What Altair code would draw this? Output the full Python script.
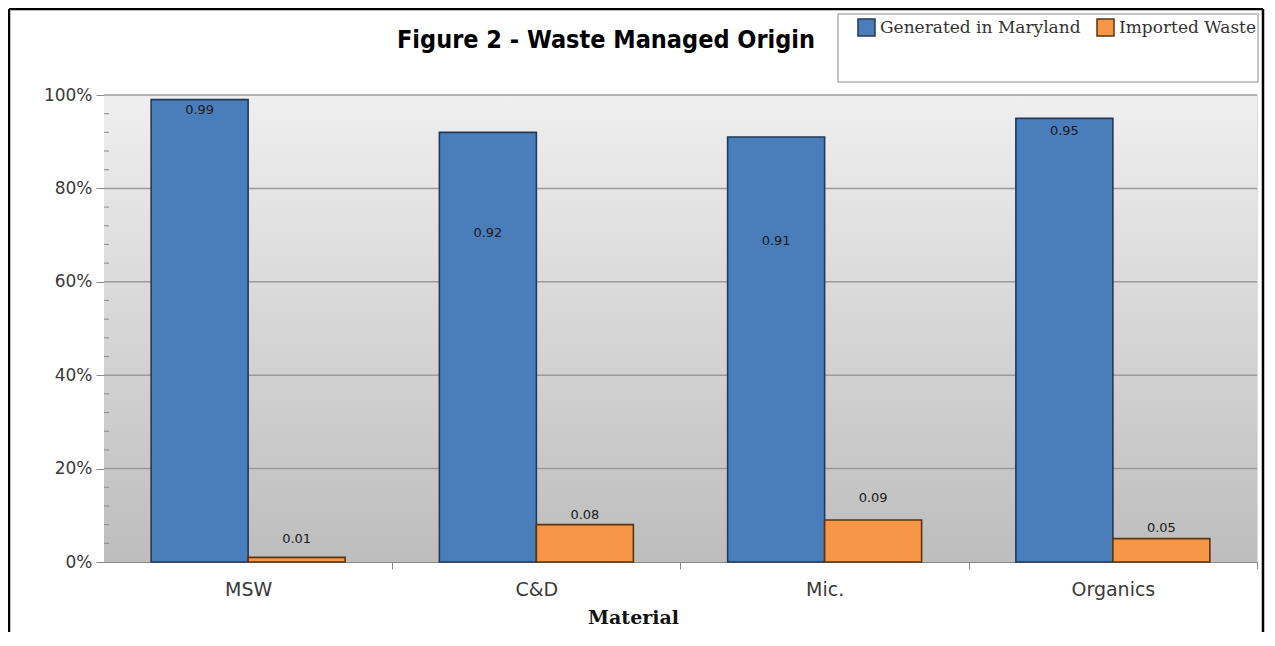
import altair as alt
import pandas as pd

# ---------------- data ----------------
materials = ["MSW", "C&D", "Mic.", "Organics"]
series = ["Generated in Maryland", "Imported Waste"]
generated = [0.99, 0.92, 0.91, 0.95]
imported = [0.01, 0.08, 0.09, 0.05]
generated_text = ["0.99", "0.92", "0.91", "0.95"]
imported_text = ["0.01", "0.08", "0.09", "0.05"]
# where the data labels sit (in axis units)
generated_label_at = [0.968, 0.704, 0.687, 0.923]
imported_label_at = [0.049, 0.100, 0.137, 0.073]
y_ticks = [0, 0.2, 0.4, 0.6, 0.8, 1.0]
grid_values = [0.2, 0.4, 0.6, 0.8, 1.0]
minor_ticks = [i / 25 for i in range(1, 25) if i % 5 != 0]

rows = []
for i, m in enumerate(materials):
    rows.append(dict(material=m, series=series[0], value=generated[i],
                     label=generated_text[i], label_at=generated_label_at[i]))
    rows.append(dict(material=m, series=series[1], value=imported[i],
                     label=imported_text[i], label_at=imported_label_at[i]))
df = pd.DataFrame(rows)

W, H = 1153, 467
one = pd.DataFrame({"k": [0]})

yscale = alt.Scale(domain=[0, 1], nice=False, zero=True)
xscale = alt.Scale(domain=materials, paddingInner=0.327, paddingOuter=0.1635)

y_axis = alt.Axis(title=None, values=y_ticks, format="%", grid=False,
                  tickSize=8, tickColor="#8a8a8a", domainColor="#8a8a8a",
                  labelFont="DejaVu Sans", labelFontSize=17, labelColor="#3a3a3a",
                  labelPadding=4)

background = alt.Chart(one).mark_rect(
    fill=alt.Gradient(
        gradient="linear", x1=0, y1=0, x2=0, y2=1,
        stops=[alt.GradientStop(offset=0, color="#efefef"),
               alt.GradientStop(offset=1, color="#bdbdbd")],
    )
).encode(x=alt.value(0), x2=alt.value(W), y=alt.value(0), y2=alt.value(H))

grid = alt.Chart(pd.DataFrame({"g": grid_values})).mark_rule(
    color="#9a9a9a", strokeWidth=1.5
).encode(
    y=alt.Y("g:Q", scale=yscale, axis=y_axis),
    x=alt.value(0), x2=alt.value(W),
)

minor = alt.Chart(pd.DataFrame({"m": minor_ticks})).mark_rule(
    color="#8a8a8a", strokeWidth=1
).encode(
    y=alt.Y("m:Q", scale=yscale, axis=y_axis),
    x=alt.value(0), x2=alt.value(5),
)

bars = alt.Chart(df).mark_bar(strokeWidth=1.6).encode(
    x=alt.X("material:N", sort=materials, scale=xscale,
            axis=alt.Axis(title="Material", labelAngle=0, tickOffset=144, labelOffset=-144,
                          tickSize=7, tickColor="#8a8a8a", domainColor="#8a8a8a",
                          labelFont="DejaVu Sans", labelFontSize=19, labelColor="#3a3a3a",
                          labelPadding=11, titleFont="DejaVu Serif", titleFontSize=19,
                          titleFontWeight="bold", titleColor="#111111",
                          titleX=529, titleY=46, titleBaseline="top")),
    xOffset=alt.XOffset("series:N", sort=series, scale=alt.Scale(domain=series, paddingInner=0, paddingOuter=0)),
    y=alt.Y("value:Q", scale=yscale, axis=y_axis),
    color=alt.Color("series:N", sort=series,
                    scale=alt.Scale(domain=series, range=["#4a7ebb", "#f79646"]),
                    legend=alt.Legend(title=None, orient="none", legendX=753, legendY=-77,
                                      direction="horizontal", symbolType="square",
                                      symbolSize=289, symbolStrokeColor="#333333",
                                      symbolStrokeWidth=1.5, labelFont="DejaVu Serif",
                                      labelFontSize=17, labelColor="#333333", labelLimit=400,
                                      labelOffset=4, columnPadding=13, padding=0)),
    stroke=alt.Stroke("series:N", sort=series,
                      scale=alt.Scale(domain=series, range=["#22395a", "#5a3510"]),
                      legend=None),
)

labels = alt.Chart(df).mark_text(
    font="DejaVu Sans", fontSize=13, color="#1a1a1a", baseline="middle"
).encode(
    x=alt.X("material:N", sort=materials, scale=xscale),
    xOffset=alt.XOffset("series:N", sort=series),
    y=alt.Y("label_at:Q", scale=yscale, axis=y_axis),
    text="label:N",
)

legend_box = alt.Chart(one).mark_rect(
    fill="white", stroke="#c4c4c4", strokeWidth=2
).encode(x=alt.value(734), x2=alt.value(1154), y=alt.value(-81), y2=alt.value(-13))

frame = alt.Chart(pd.DataFrame({
    "x": [-95, -95, 1159], "x2": [1159, -95, 1159],
    "y": [-86, -86, -86], "y2": [-86, 540, 540],
})).mark_rule(color="#000000", strokeWidth=2.5).encode(
    x=alt.X("x:Q", scale=None), x2="x2:Q",
    y=alt.Y("y:Q", scale=None), y2="y2:Q",
)

title = alt.Chart(one).mark_text(
    text="Figure 2 - Waste Managed Origin", font="DejaVu Sans Condensed",
    fontWeight="bold", fontSize=25, color="#000000", align="center", baseline="middle"
).encode(x=alt.value(502), y=alt.value(-55))

chart = alt.layer(
    background, grid, minor, legend_box, frame, bars, labels, title
).resolve_scale(x="shared", y="shared").properties(
    width=W, height=H,
    autosize=alt.AutoSizeParams(type="none"),
    padding={"left": 96, "top": 87, "right": 10, "bottom": 70},
).configure_view(stroke="#8a8a8a", strokeWidth=1.5).configure(background="white")

chart.save("out.html", embed_options={"renderer": "svg", "actions": False})
